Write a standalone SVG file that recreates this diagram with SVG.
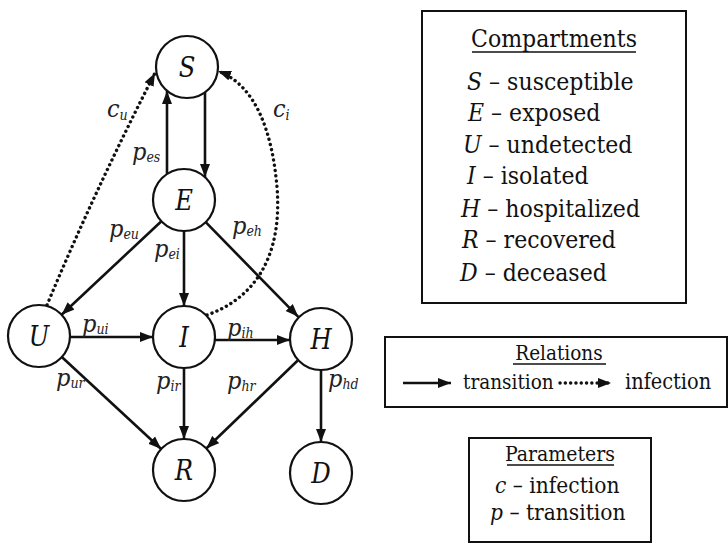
<svg xmlns="http://www.w3.org/2000/svg" width="728" height="543" viewBox="0 0 728 543">
<defs>
<style>
text{font-family:"DejaVu Serif Condensed","DejaVu Serif",serif}
.node circle{fill:#fff;stroke:#111;stroke-width:2.2}
.node text{font-style:italic;font-size:27px;fill:#111;text-anchor:middle}
.e{stroke:#111;stroke-width:2.6;fill:none}
.d{stroke:#111;stroke-width:3.4;fill:none;stroke-dasharray:0.1 5.2;stroke-linecap:round}
.lbl text{font-style:italic;font-size:25px;fill:#222}
.sub{font-size:14px}
.leg text{fill:#111}
.it{font-style:italic}
.box{fill:none;stroke:#111;stroke-width:2}
.ul{stroke:#111;stroke-width:1.4}
</style>
<marker id="ah" markerUnits="userSpaceOnUse" markerWidth="14" markerHeight="11" refX="13" refY="5" orient="auto" viewBox="0 0 14 10">
<path d="M0,0 L13,5 L0,10 z" fill="#111"/>
</marker>
</defs>
<rect width="728" height="543" fill="#fff"/>

<g id="connectors">
<line class="e" x1="167" y1="174" x2="167" y2="91" marker-end="url(#ah)"/>
<line class="e" x1="205" y1="92" x2="205" y2="177" marker-end="url(#ah)"/>
<line class="e" x1="161.4" y1="221.2" x2="61.6" y2="314.8" marker-end="url(#ah)"/>
<line class="e" x1="184" y1="231" x2="184" y2="306" marker-end="url(#ah)"/>
<line class="e" x1="205.7" y1="222.2" x2="298.3" y2="316.8" marker-end="url(#ah)"/>
<line class="e" x1="70" y1="337" x2="153" y2="337" marker-end="url(#ah)"/>
<line class="e" x1="215" y1="340" x2="290" y2="340" marker-end="url(#ah)"/>
<line class="e" x1="61.8" y1="357" x2="161.2" y2="449" marker-end="url(#ah)"/>
<line class="e" x1="184" y1="368" x2="184" y2="439" marker-end="url(#ah)"/>
<line class="e" x1="297.7" y1="360.5" x2="206.3" y2="448.5" marker-end="url(#ah)"/>
<line class="e" x1="321" y1="370" x2="321" y2="442" marker-end="url(#ah)"/>
<path class="d" d="M47,305 Q95,190 155,73" marker-end="url(#ah)"/>
<path class="d" d="M207,315 C250,300 283,262 277,187 C272,130 255,85 218,71" marker-end="url(#ah)"/>
</g>

<g id="labels" class="lbl">
<text x="107" y="117">c<tspan class="sub" dy="3">u</tspan></text>
<text x="273" y="117">c<tspan class="sub" dy="3">i</tspan></text>
<text x="132" y="160">p<tspan class="sub" dy="2">es</tspan></text>
<text x="109" y="237">p<tspan class="sub" dy="2">eu</tspan></text>
<text x="154" y="257">p<tspan class="sub" dy="2">ei</tspan></text>
<text x="232" y="234">p<tspan class="sub" dy="2">eh</tspan></text>
<text x="82" y="332">p<tspan class="sub" dy="2">ui</tspan></text>
<text x="227" y="336">p<tspan class="sub" dy="2">ih</tspan></text>
<text x="56" y="386">p<tspan class="sub" dy="2">ur</tspan></text>
<text x="156" y="389">p<tspan class="sub" dy="2">ir</tspan></text>
<text x="227" y="389">p<tspan class="sub" dy="2">hr</tspan></text>
<text x="328" y="387">p<tspan class="sub" dy="2">hd</tspan></text>
</g>

<g id="S" class="node"><circle cx="187" cy="67" r="31"/><text x="187" y="77">S</text></g>
<g id="E" class="node"><circle cx="184" cy="200" r="31"/><text x="184" y="210">E</text></g>
<g id="U" class="node"><circle cx="39" cy="336" r="31"/><text x="39" y="346">U</text></g>
<g id="I" class="node"><circle cx="184" cy="337" r="31"/><text x="184" y="347">I</text></g>
<g id="H" class="node"><circle cx="321" cy="339" r="31"/><text x="321" y="349">H</text></g>
<g id="R" class="node"><circle cx="184" cy="470" r="31"/><text x="184" y="480">R</text></g>
<g id="D" class="node"><circle cx="321" cy="473" r="31"/><text x="321" y="483">D</text></g>

<g id="compartments" class="leg" font-size="24.5">
<rect class="box" x="422" y="11" width="264" height="292"/>
<text x="554" y="47" text-anchor="middle">Compartments</text>
<line class="ul" x1="472" y1="52" x2="636" y2="52"/>
<text x="467" y="90"><tspan class="it">S</tspan> – susceptible</text>
<text x="468" y="121"><tspan class="it">E</tspan> – exposed</text>
<text x="463" y="153"><tspan class="it">U</tspan> – undetected</text>
<text x="467" y="184"><tspan class="it">I</tspan> – isolated</text>
<text x="461" y="217"><tspan class="it">H</tspan> – hospitalized</text>
<text x="462" y="248"><tspan class="it">R</tspan> – recovered</text>
<text x="460" y="281"><tspan class="it">D</tspan> – deceased</text>
</g>

<g id="relations" class="leg" font-size="20.5">
<rect class="box" x="385" y="337" width="342" height="70"/>
<text x="559" y="360" text-anchor="middle">Relations</text>
<line class="ul" x1="513" y1="364" x2="606" y2="364"/>
<line class="e" x1="403" y1="383" x2="451" y2="383" marker-end="url(#ah)"/>
<text x="463" y="389">transition</text>
<line class="d" x1="560" y1="383" x2="611" y2="383" marker-end="url(#ah)"/>
<text x="625" y="389" font-size="21.5">infection</text>
</g>

<g id="parameters" class="leg" font-size="21">
<rect class="box" x="469" y="438" width="182" height="104"/>
<text x="560" y="461" text-anchor="middle">Parameters</text>
<line class="ul" x1="507" y1="465" x2="614" y2="465"/>
<text x="495" y="493" font-size="22.5"><tspan class="it">c</tspan> – infection</text>
<text x="490" y="520" font-size="22.5"><tspan class="it">p</tspan> – transition</text>
</g>
</svg>
